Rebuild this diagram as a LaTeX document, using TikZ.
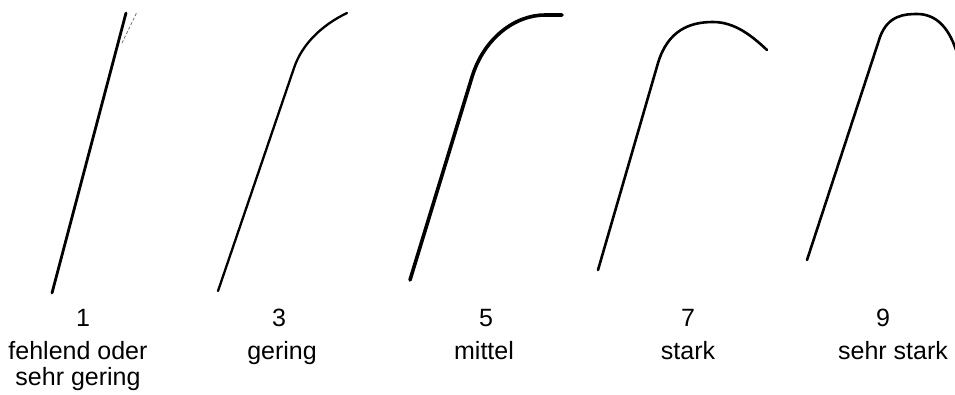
\documentclass[tikz,border=0pt]{standalone}
\usepackage{fontspec}
\setmainfont{Liberation Sans}
\begin{document}
\begin{tikzpicture}[x=1pt,y=-1pt,
  stem/.style={line width=2.6pt,line cap=round},
  grade/.style={font=\fontsize{25}{30}\selectfont,anchor=base}]
\useasboundingbox (0,0) rectangle (955,394);
% 1
\draw[stem,line width=2.8pt] (52,293)--(126,13);
\draw[densely dashed,black!55,line width=0.8pt] (122,43)--(137,12);
% 3
\draw[stem,line width=2.3pt] (218,291)--(294,68) .. controls (302,44) and (322,25) .. (347,13);
% 5
\draw[stem,line width=3.6pt] (410,280)--(472,77) .. controls (484,38) and (515,15) .. (545,15)--(562,15);
% 7
\draw[stem] (598,270)--(658,63) .. controls (668,30) and (690,22) .. (713,22) .. controls (735,22) and (752,36) .. (767,50);
% 9
\draw[stem] (807,260)--(880,37) .. controls (888,15) and (905,14) .. (917,14) .. controls (935,14) and (948,26) .. (956,50);
% labels
\node[grade] (n1) at (83,326) {1};
\node[grade] (t1) at (78,359) {fehlend oder};
\node[grade] (s1) at (78,385) {sehr gering};
\node[grade] (n3) at (279,326) {3};
\node[grade] (t3) at (282,359) {gering};
\node[grade] (n5) at (486,326) {5};
\node[grade] (t5) at (484,359) {mittel};
\node[grade] (n7) at (688,326) {7};
\node[grade] (t7) at (688,359) {stark};
\node[grade] (n9) at (883,326) {9};
\node[grade] (t9) at (893,359) {sehr stark};
\end{tikzpicture}
\end{document}
